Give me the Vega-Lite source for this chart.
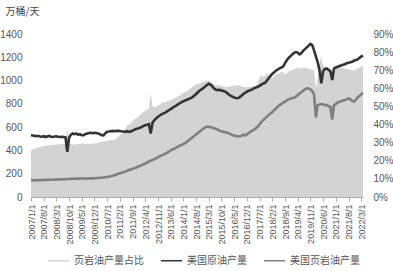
{
"$schema":"https://vega.github.io/schema/vega-lite/v6.json",
"autosize":"none",
"width":332,"height":163,
"padding":{"left":31,"top":34,"right":30,"bottom":74},
"background":"white",
"data":{"values":[
{"d":"2007-01-01","c":530,"s":144,"p":25.8},{"d":"2007-02-01","c":528,"s":144,"p":26.2},{"d":"2007-03-01","c":525,"s":143,"p":26.6},{"d":"2007-04-01","c":522,"s":144,"p":27},{"d":"2007-05-01","c":526,"s":145,"p":27.3},{"d":"2007-06-01","c":520,"s":145,"p":27.6},{"d":"2007-07-01","c":518,"s":146,"p":27.9},{"d":"2007-08-01","c":522,"s":146,"p":28.1},{"d":"2007-09-01","c":515,"s":147,"p":28.3},{"d":"2007-10-01","c":520,"s":147,"p":28.5},{"d":"2007-11-01","c":525,"s":148,"p":28.6},{"d":"2007-12-01","c":518,"s":148,"p":28.7},
{"d":"2008-01-01","c":516,"s":148,"p":28.8},{"d":"2008-02-01","c":520,"s":149,"p":28.9},{"d":"2008-03-01","c":522,"s":150,"p":29},{"d":"2008-04-01","c":518,"s":150,"p":29},{"d":"2008-05-01","c":515,"s":151,"p":29.1},{"d":"2008-06-01","c":517,"s":152,"p":29.2},{"d":"2008-07-01","c":515,"s":152,"p":29.2},{"d":"2008-08-01","c":512,"s":153,"p":29.3},{"d":"2008-09-01","c":387,"s":154,"p":38},{"d":"2008-10-01","c":510,"s":155,"p":29.5},{"d":"2008-11-01","c":535,"s":156,"p":29.2},{"d":"2008-12-01","c":545,"s":157,"p":29},
{"d":"2009-01-01","c":540,"s":157,"p":29},{"d":"2009-02-01","c":545,"s":158,"p":29},{"d":"2009-03-01","c":535,"s":158,"p":29.2},{"d":"2009-04-01","c":540,"s":158,"p":29.2},{"d":"2009-05-01","c":530,"s":159,"p":29.5},{"d":"2009-06-01","c":531,"s":159,"p":29.5},{"d":"2009-07-01","c":540,"s":158,"p":29.3},{"d":"2009-08-01","c":545,"s":158,"p":29.2},{"d":"2009-09-01","c":550,"s":159,"p":29.3},{"d":"2009-10-01","c":551,"s":160,"p":29.4},{"d":"2009-11-01","c":548,"s":160,"p":29.5},{"d":"2009-12-01","c":552,"s":161,"p":29.5},
{"d":"2010-01-01","c":550,"s":162,"p":29.5},{"d":"2010-02-01","c":545,"s":163,"p":30},{"d":"2010-03-01","c":540,"s":165,"p":30.4},{"d":"2010-04-01","c":531,"s":166,"p":30.5},{"d":"2010-05-01","c":530,"s":168,"p":30.6},{"d":"2010-06-01","c":548,"s":170,"p":30.8},{"d":"2010-07-01","c":560,"s":172,"p":31},{"d":"2010-08-01","c":562,"s":175,"p":31.2},{"d":"2010-09-01","c":565,"s":178,"p":31.5},{"d":"2010-10-01","c":568,"s":182,"p":31.5},{"d":"2010-11-01","c":565,"s":186,"p":31.5},{"d":"2010-12-01","c":568,"s":190,"p":32.5},
{"d":"2011-01-01","c":568,"s":200,"p":33},{"d":"2011-02-01","c":566,"s":204,"p":34},{"d":"2011-03-01","c":565,"s":208,"p":35},{"d":"2011-04-01","c":562,"s":212,"p":36},{"d":"2011-05-01","c":560,"s":218,"p":37},{"d":"2011-06-01","c":565,"s":225,"p":39.5},{"d":"2011-07-01","c":560,"s":232,"p":40},{"d":"2011-08-01","c":562,"s":237,"p":40.6},{"d":"2011-09-01","c":570,"s":242,"p":42},{"d":"2011-10-01","c":578,"s":247,"p":42.8},{"d":"2011-11-01","c":585,"s":253,"p":43.5},{"d":"2011-12-01","c":589,"s":260,"p":44},
{"d":"2012-01-01","c":595,"s":267,"p":45.5},{"d":"2012-02-01","c":600,"s":274,"p":46},{"d":"2012-03-01","c":610,"s":281,"p":47},{"d":"2012-04-01","c":617,"s":288,"p":47.5},{"d":"2012-05-01","c":620,"s":296,"p":48.5},{"d":"2012-06-01","c":625,"s":305,"p":49},{"d":"2012-07-01","c":546,"s":312,"p":57.5},{"d":"2012-08-01","c":640,"s":318,"p":50},{"d":"2012-09-01","c":660,"s":325,"p":49.5},{"d":"2012-10-01","c":675,"s":333,"p":50},{"d":"2012-11-01","c":690,"s":342,"p":50.5},{"d":"2012-12-01","c":700,"s":350,"p":51},
{"d":"2013-01-01","c":712,"s":357,"p":52},{"d":"2013-02-01","c":718,"s":364,"p":52.2},{"d":"2013-03-01","c":725,"s":372,"p":52.5},{"d":"2013-04-01","c":735,"s":380,"p":52.8},{"d":"2013-05-01","c":745,"s":390,"p":53},{"d":"2013-06-01","c":755,"s":400,"p":53.5},{"d":"2013-07-01","c":765,"s":408,"p":54},{"d":"2013-08-01","c":775,"s":416,"p":54.5},{"d":"2013-09-01","c":785,"s":424,"p":55},{"d":"2013-10-01","c":795,"s":432,"p":55.5},{"d":"2013-11-01","c":805,"s":440,"p":56},{"d":"2013-12-01","c":815,"s":448,"p":56.8},
{"d":"2014-01-01","c":822,"s":455,"p":57.5},{"d":"2014-02-01","c":830,"s":465,"p":58},{"d":"2014-03-01","c":835,"s":475,"p":58.5},{"d":"2014-04-01","c":842,"s":488,"p":59.2},{"d":"2014-05-01","c":850,"s":500,"p":60},{"d":"2014-06-01","c":858,"s":512,"p":60.8},{"d":"2014-07-01","c":870,"s":525,"p":61.5},{"d":"2014-08-01","c":885,"s":538,"p":62},{"d":"2014-09-01","c":900,"s":550,"p":62.5},{"d":"2014-10-01","c":915,"s":562,"p":62.8},{"d":"2014-11-01","c":925,"s":575,"p":63.2},{"d":"2014-12-01","c":935,"s":588,"p":63.5},
{"d":"2015-01-01","c":950,"s":598,"p":64},{"d":"2015-02-01","c":962,"s":605,"p":64.2},{"d":"2015-03-01","c":972,"s":602,"p":64.5},{"d":"2015-04-01","c":965,"s":600,"p":63.5},{"d":"2015-05-01","c":950,"s":595,"p":63},{"d":"2015-06-01","c":930,"s":590,"p":62},{"d":"2015-07-01","c":922,"s":585,"p":61.8},{"d":"2015-08-01","c":918,"s":578,"p":61.6},{"d":"2015-09-01","c":920,"s":570,"p":61.5},{"d":"2015-10-01","c":915,"s":565,"p":61.3},{"d":"2015-11-01","c":910,"s":560,"p":61},{"d":"2015-12-01","c":905,"s":556,"p":60.8},
{"d":"2016-01-01","c":895,"s":552,"p":60.8},{"d":"2016-02-01","c":880,"s":548,"p":61},{"d":"2016-03-01","c":870,"s":540,"p":61},{"d":"2016-04-01","c":862,"s":532,"p":61.3},{"d":"2016-05-01","c":855,"s":527,"p":61.5},{"d":"2016-06-01","c":850,"s":524,"p":61.6},{"d":"2016-07-01","c":848,"s":522,"p":61.8},{"d":"2016-08-01","c":858,"s":520,"p":61.5},{"d":"2016-09-01","c":870,"s":525,"p":61},{"d":"2016-10-01","c":885,"s":535,"p":60.8},{"d":"2016-11-01","c":895,"s":528,"p":60.8},{"d":"2016-12-01","c":905,"s":538,"p":60.8},
{"d":"2017-01-01","c":912,"s":550,"p":60.8},{"d":"2017-02-01","c":918,"s":562,"p":60.8},{"d":"2017-03-01","c":925,"s":570,"p":61},{"d":"2017-04-01","c":935,"s":578,"p":61},{"d":"2017-05-01","c":940,"s":590,"p":61.5},{"d":"2017-06-01","c":947,"s":605,"p":63},{"d":"2017-07-01","c":955,"s":625,"p":66},{"d":"2017-08-01","c":965,"s":645,"p":67.3},{"d":"2017-09-01","c":975,"s":660,"p":66},{"d":"2017-10-01","c":980,"s":675,"p":67},{"d":"2017-11-01","c":1000,"s":690,"p":68},{"d":"2017-12-01","c":1020,"s":705,"p":67.5},
{"d":"2018-01-01","c":1040,"s":718,"p":66},{"d":"2018-02-01","c":1060,"s":730,"p":65.5},{"d":"2018-03-01","c":1070,"s":745,"p":67},{"d":"2018-04-01","c":1085,"s":760,"p":67.5},{"d":"2018-05-01","c":1095,"s":775,"p":68},{"d":"2018-06-01","c":1105,"s":789,"p":68.5},{"d":"2018-07-01","c":1112,"s":800,"p":69},{"d":"2018-08-01","c":1120,"s":810,"p":69},{"d":"2018-09-01","c":1150,"s":820,"p":67.5},{"d":"2018-10-01","c":1175,"s":830,"p":68.5},{"d":"2018-11-01","c":1195,"s":838,"p":69.5},{"d":"2018-12-01","c":1208,"s":845,"p":70},
{"d":"2019-01-01","c":1225,"s":850,"p":70},{"d":"2019-02-01","c":1238,"s":855,"p":70.5},{"d":"2019-03-01","c":1245,"s":862,"p":71},{"d":"2019-04-01","c":1240,"s":875,"p":71.2},{"d":"2019-05-01","c":1225,"s":888,"p":71},{"d":"2019-06-01","c":1235,"s":900,"p":71},{"d":"2019-07-01","c":1255,"s":912,"p":71.5},{"d":"2019-08-01","c":1270,"s":925,"p":71.5},{"d":"2019-09-01","c":1285,"s":933,"p":71},{"d":"2019-10-01","c":1300,"s":932,"p":70.8},{"d":"2019-11-01","c":1315,"s":925,"p":70.5},{"d":"2019-12-01","c":1305,"s":912,"p":70.2},
{"d":"2020-01-01","c":1260,"s":880,"p":70},{"d":"2020-02-01","c":1205,"s":683,"p":60},{"d":"2020-03-01","c":1160,"s":789,"p":66},{"d":"2020-04-01","c":1090,"s":795,"p":73},{"d":"2020-05-01","c":976,"s":798,"p":78},{"d":"2020-06-01","c":1080,"s":795,"p":72},{"d":"2020-07-01","c":1100,"s":790,"p":71.5},{"d":"2020-08-01","c":1105,"s":789,"p":71},{"d":"2020-09-01","c":1090,"s":780,"p":71.5},{"d":"2020-10-01","c":1080,"s":775,"p":71},{"d":"2020-11-01","c":1004,"s":666,"p":69},{"d":"2020-12-01","c":1105,"s":789,"p":71},
{"d":"2021-01-01","c":1112,"s":800,"p":71},{"d":"2021-02-01","c":1119,"s":810,"p":71.2},{"d":"2021-03-01","c":1125,"s":818,"p":71.5},{"d":"2021-04-01","c":1130,"s":822,"p":71.5},{"d":"2021-05-01","c":1135,"s":828,"p":71.3},{"d":"2021-06-01","c":1140,"s":832,"p":71},{"d":"2021-07-01","c":1148,"s":838,"p":70.5},{"d":"2021-08-01","c":1152,"s":847,"p":70.5},{"d":"2021-09-01","c":1158,"s":840,"p":70.2},{"d":"2021-10-01","c":1162,"s":825,"p":70},{"d":"2021-11-01","c":1170,"s":818,"p":70},{"d":"2021-12-01","c":1176,"s":835,"p":70.5},
{"d":"2022-01-01","c":1182,"s":855,"p":71},{"d":"2022-02-01","c":1195,"s":868,"p":71.5},{"d":"2022-03-01","c":1205,"s":880,"p":72},{"d":"2022-04-01","c":1215,"s":895,"p":72.5}
]},
"encoding":{
"x":{"field":"d","type":"temporal",
"scale":{"type":"utc","domain":[{"year":2007,"month":1,"date":1,"utc":true},{"year":2022,"month":4,"date":1,"utc":true}]},
"axis":{"title":null,"grid":false,"labelExpr":"utcFormat(datum.value, '%Y/%-m/%-d')","labelAngle":270,"labelAlign":"right","labelBaseline":"middle","labelFontSize":9,"labelColor":"#555555","labelPadding":3,"tickSize":4,"tickColor":"#aaaaaa","domainColor":"#aaaaaa","labelOverlap":false,"labelFlush":false,
"values":[{"year":2007,"month":1,"date":1,"utc":true},{"year":2007,"month":8,"date":1,"utc":true},{"year":2008,"month":3,"date":1,"utc":true},{"year":2008,"month":10,"date":1,"utc":true},{"year":2009,"month":5,"date":1,"utc":true},{"year":2009,"month":12,"date":1,"utc":true},{"year":2010,"month":7,"date":1,"utc":true},{"year":2011,"month":2,"date":1,"utc":true},{"year":2011,"month":9,"date":1,"utc":true},{"year":2012,"month":4,"date":1,"utc":true},{"year":2012,"month":11,"date":1,"utc":true},{"year":2013,"month":6,"date":1,"utc":true},{"year":2014,"month":1,"date":1,"utc":true},{"year":2014,"month":8,"date":1,"utc":true},{"year":2015,"month":3,"date":1,"utc":true},{"year":2015,"month":10,"date":1,"utc":true},{"year":2016,"month":5,"date":1,"utc":true},{"year":2016,"month":12,"date":1,"utc":true},{"year":2017,"month":7,"date":1,"utc":true},{"year":2018,"month":2,"date":1,"utc":true},{"year":2018,"month":9,"date":1,"utc":true},{"year":2019,"month":4,"date":1,"utc":true},{"year":2019,"month":11,"date":1,"utc":true},{"year":2020,"month":6,"date":1,"utc":true},{"year":2021,"month":1,"date":1,"utc":true},{"year":2021,"month":8,"date":1,"utc":true},{"year":2022,"month":3,"date":1,"utc":true}]}}
},
"layer":[
{"mark":{"type":"area","opacity":1},
 "encoding":{
  "y":{"field":"p","type":"quantitative","scale":{"domain":[0,90],"nice":false},
   "axis":{"orient":"right","title":null,"grid":false,"domain":false,"ticks":false,"values":[0,10,20,30,40,50,60,70,80,90],"labelExpr":"datum.value + '%'","labelFontSize":10,"labelColor":"#555555","labelPadding":10}},
  "color":{"datum":"页岩油产量占比","type":"nominal",
   "scale":{"domain":["页岩油产量占比","美国原油产量","美国页岩油产量"],"range":["#d3d3d3","#333333","#7f7f7f"]},
   "legend":{"encode":{"symbols":{"update":{"shape":{"value":"stroke"},"stroke":{"scale":"color","field":"value"},"fill":{"value":"transparent"},"strokeWidth":{"signal":"datum.value == '页岩油产量占比' ? 7 : 3"}}}}}}}},
{"layer":[
 {"mark":{"type":"line","strokeWidth":2.6},
  "encoding":{
   "y":{"field":"c","type":"quantitative","scale":{"domain":[0,1400],"nice":false},
    "axis":{"orient":"left","title":"万桶/天","titleAngle":0,"titleX":-26,"titleY":-23,"titleAlign":"left","titleBaseline":"middle","titleFontWeight":"normal","titleFontSize":10,"titleColor":"#444444","titleFont":"Noto Sans CJK SC","grid":false,"domain":false,"ticks":false,"values":[0,200,400,600,800,1000,1200,1400],"format":"d","labelFontSize":10,"labelColor":"#555555","labelPadding":9}},
   "color":{"datum":"美国原油产量","type":"nominal"}}},
 {"mark":{"type":"line","strokeWidth":2.6},
  "encoding":{
   "y":{"field":"s","type":"quantitative","scale":{"domain":[0,1400],"nice":false},
    "axis":{"orient":"left","title":"万桶/天","titleAngle":0,"titleX":-26,"titleY":-23,"titleAlign":"left","titleBaseline":"middle","titleFontWeight":"normal","titleFontSize":10,"titleColor":"#444444","titleFont":"Noto Sans CJK SC","grid":false,"domain":false,"ticks":false,"values":[0,200,400,600,800,1000,1200,1400],"format":"d","labelFontSize":10,"labelColor":"#555555","labelPadding":9}},
   "color":{"datum":"美国页岩油产量","type":"nominal"}}}
]}
],
"resolve":{"scale":{"y":"independent"}},
"config":{"view":{"stroke":null},"font":"Liberation Sans, Noto Sans CJK SC",
 "legend":{"orient":"none","legendX":16,"legendY":215,"direction":"horizontal","title":null,"labelFontSize":10,"labelColor":"#555555","symbolType":"stroke","symbolSize":441,"columnPadding":14,"labelFont":"Noto Sans CJK SC"}}
}
